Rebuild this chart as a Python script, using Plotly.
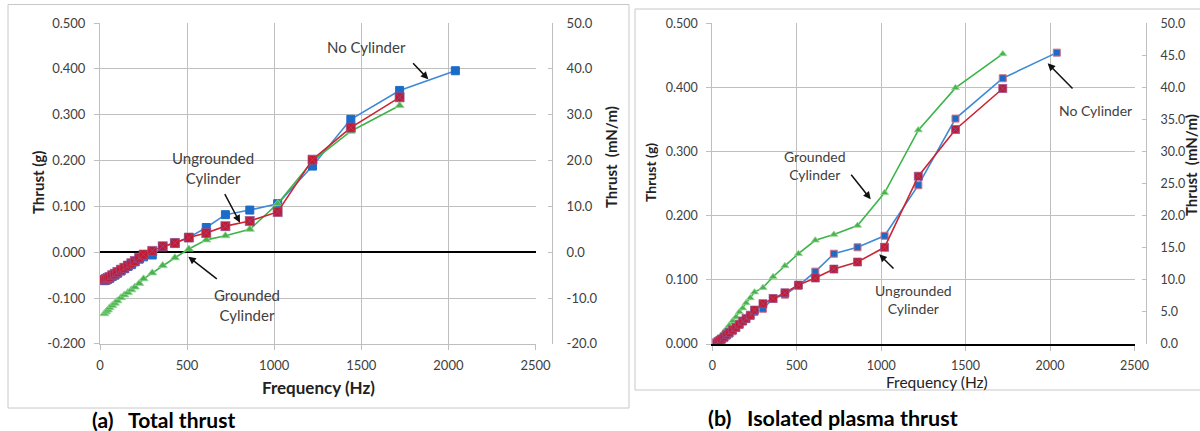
import plotly.graph_objects as go

# ---- data -------------------------------------------------------------
freq = [25, 35, 45, 55, 70, 85, 100, 120, 140, 160, 180, 200, 225, 250, 300,
        360, 430, 510, 610, 720, 860, 1020, 1220, 1440, 1720]
freq_nocyl = [25, 35, 45, 55, 70, 85, 100, 120, 140, 160, 180, 200, 225, 250, 300,
              360, 430, 510, 610, 720, 860, 1020, 1220, 1440, 1720, 2040]

# (a) total thrust, g
total_nocyl = [-0.062, -0.061, -0.059, -0.057, -0.053, -0.050, -0.046, -0.041, -0.036,
               -0.031, -0.027, -0.021, -0.015, -0.010, -0.006, 0.012, 0.020, 0.032,
               0.054, 0.082, 0.092, 0.106, 0.188, 0.290, 0.353, 0.396]
total_ungr = [-0.060, -0.058, -0.056, -0.054, -0.050, -0.047, -0.043, -0.038, -0.034,
              -0.029, -0.024, -0.019, -0.012, -0.005, 0.003, 0.013, 0.020, 0.032,
              0.042, 0.057, 0.068, 0.088, 0.202, 0.272, 0.338]
total_gnd = [-0.134, -0.130, -0.126, -0.121, -0.116, -0.111, -0.106, -0.099, -0.093,
             -0.088, -0.082, -0.076, -0.068, -0.058, -0.045, -0.029, -0.012, 0.007,
             0.027, 0.036, 0.050, 0.106, 0.199, 0.264, 0.320]

# (b) isolated plasma thrust, g
iso_nocyl = [0.000, 0.002, 0.004, 0.006, 0.009, 0.013, 0.016, 0.020, 0.025, 0.030,
             0.035, 0.039, 0.044, 0.050, 0.055, 0.071, 0.077, 0.091, 0.113, 0.141,
             0.151, 0.169, 0.248, 0.352, 0.415, 0.455]
iso_ungr = [0.002, 0.004, 0.006, 0.008, 0.011, 0.015, 0.018, 0.022, 0.026, 0.031,
            0.036, 0.040, 0.045, 0.053, 0.063, 0.071, 0.080, 0.092, 0.103, 0.117,
            0.128, 0.151, 0.262, 0.335, 0.399]
iso_gnd = [0.002, 0.006, 0.010, 0.014, 0.019, 0.024, 0.029, 0.036, 0.042, 0.050,
           0.056, 0.064, 0.072, 0.081, 0.088, 0.105, 0.122, 0.141, 0.162, 0.171,
           0.185, 0.236, 0.334, 0.400, 0.453]

x_ticks = [0, 500, 1000, 1500, 2000, 2500]
ya_ticks = [-0.2, -0.1, 0.0, 0.1, 0.2, 0.3, 0.4, 0.5]
ya2_ticks = [-20, -10, 0, 10, 20, 30, 40, 50]
yb_ticks = [0.0, 0.1, 0.2, 0.3, 0.4, 0.5]
yb2_ticks = [0, 5, 10, 15, 20, 25, 30, 35, 40, 45, 50]

# ---- styling ----------------------------------------------------------
W, H = 1200, 431
FONT = "Lato"
GRID = "#BFBFBF"
TXT = "#404040"
BLUE_L, BLUE_M = "#3E8AD6", "#1B6CC8"
RED_L, RED_M = "#CC2433", "#C41A30"
GRN_L, GRN_M = "#3DB54A", "#4CB050"


def px(x):
    return x / W


def py(y):
    return 1 - y / H


fig = go.Figure()


def add_series(xs, ys, xa, ya, kind, msize):
    if kind == "blue":
        line = dict(color=BLUE_L, width=1.6)
        marker = dict(symbol="square", size=msize, color=BLUE_M,
                      line=dict(color="#D87080" if xa == "x2" else BLUE_M, width=1))
    elif kind == "red":
        line = dict(color=RED_L, width=1.6)
        marker = dict(symbol="square-x", size=msize + 1, color=RED_M,
                      line=dict(color="#94508F", width=0.7))
    else:
        line = dict(color=GRN_L, width=1.6)
        marker = dict(symbol="triangle-up", size=msize, color=GRN_M,
                      line=dict(color="#8FD88F", width=0.8))
    fig.add_trace(go.Scatter(x=xs, y=ys, xaxis=xa, yaxis=ya, mode="lines+markers",
                             line=line, marker=marker, showlegend=False,
                             hoverinfo="skip"))


# panel (a)
add_series(freq_nocyl, total_nocyl, "x", "y", "blue", 8)
add_series(freq, total_gnd, "x", "y", "green", 8)
add_series(freq, total_ungr, "x", "y", "red", 8)
# panel (b)
add_series(freq_nocyl, iso_nocyl, "x2", "y3", "blue", 7)
add_series(freq, iso_gnd, "x2", "y3", "green", 7)
add_series(freq, iso_ungr, "x2", "y3", "red", 7)
# secondary (mN/m) axes carry no marks of their own
fig.add_trace(go.Scatter(x=[], y=[], xaxis="x", yaxis="y2", showlegend=False))
fig.add_trace(go.Scatter(x=[], y=[], xaxis="x2", yaxis="y4", showlegend=False))

font_a = dict(family=FONT, size=13, color=TXT)
font_b = dict(family=FONT, size=12.5, color=TXT)


def xstyle(tf):
    return dict(range=[0, 2503], tickmode="array", tickvals=x_ticks,
                ticktext=[str(v) for v in x_ticks], showgrid=True, gridcolor=GRID,
                gridwidth=1, zeroline=False, ticks="outside", ticklen=5,
                tickcolor=GRID, tickfont=tf, ticklabelstandoff=4, automargin=False)


def ystyle(tf):
    return dict(tickmode="array", showgrid=True, gridcolor=GRID, gridwidth=1,
                ticks="outside", ticklen=5, tickcolor=GRID, showline=True,
                linecolor=GRID, linewidth=1, tickfont=tf, ticklabelstandoff=6,
                automargin=False)


def y2style(tf):
    return dict(tickmode="array", showgrid=False, zeroline=False, ticks="inside",
                ticklen=4, tickcolor=GRID, showline=True, linecolor=GRID,
                linewidth=1, tickfont=tf, side="right", anchor="free",
                ticklabelstandoff=11, automargin=False)


fig.update_layout(
    width=W, height=H,
    margin=dict(l=0, r=0, t=0, b=0, autoexpand=False),
    paper_bgcolor="white", plot_bgcolor="white",
    showlegend=False,
    xaxis=dict(domain=[px(100), px(536)], anchor="y", showline=True,
               linecolor=GRID, linewidth=1, **xstyle(font_a)),
    yaxis=dict(domain=[py(344.3), py(22.7)], anchor="x", range=[-0.2008, 0.5008],
               tickvals=ya_ticks, ticktext=[f"{v:.3f}" for v in ya_ticks],
               zeroline=True, zerolinecolor="black", zerolinewidth=2,
               **ystyle(font_a)),
    yaxis2=dict(overlaying="y", position=px(552), range=[-20.08, 50.08],
                tickvals=ya2_ticks, ticktext=[f"{v:.1f}" for v in ya2_ticks],
                **y2style(font_a)),
    xaxis2=dict(domain=[px(712.3), px(1135)], anchor="y3", showline=True,
                linecolor="black", linewidth=2, **xstyle(font_b)),
    yaxis3=dict(domain=[py(344), py(23.3)], anchor="x2", range=[0, 0.5008],
                tickvals=yb_ticks, ticktext=[f"{v:.3f}" for v in yb_ticks],
                zeroline=False, **ystyle(font_b)),
    yaxis4=dict(overlaying="y3", position=px(1146), range=[0, 50.08],
                tickvals=yb2_ticks, ticktext=[f"{v:.1f}" for v in yb2_ticks],
                **y2style(font_b)),
)

# panel frames
fig.add_shape(type="rect", xref="paper", yref="paper", x0=px(8), x1=px(629),
              y0=py(408), y1=py(4.5), line=dict(color="#C8C8C8", width=1),
              fillcolor="rgba(0,0,0,0)", layer="below")
fig.add_shape(type="rect", xref="paper", yref="paper", x0=px(635), x1=px(1215),
              y0=py(390), y1=py(9), line=dict(color="#C8C8C8", width=1),
              fillcolor="rgba(0,0,0,0)", layer="below")


def text(x, y, s, size=14, color=TXT, bold=False, angle=0, xanchor="center"):
    fig.add_annotation(xref="paper", yref="paper", x=px(x), y=py(y),
                       text=f"<b>{s}</b>" if bold else s, showarrow=False,
                       font=dict(family=FONT, size=size, color=color),
                       textangle=angle, xanchor=xanchor, yanchor="middle")


def arrow(tail, head):
    fig.add_annotation(xref="paper", yref="paper", x=px(head[0]), y=py(head[1]),
                       ax=tail[0] - head[0], ay=tail[1] - head[1], text="",
                       showarrow=True, arrowhead=2, arrowsize=1, arrowwidth=1.5,
                       arrowcolor="#111111", standoff=0)


# axis titles
text(38, 183, "Thrust (g)", size=15, color="#222222", bold=True, angle=-90)
text(611, 157, "Thrust  (mN/m)", size=15, color="#222222", bold=True, angle=-90)
text(318, 387, "Frequency (Hz)", size=17, color="#222222", bold=True)
text(650, 173, "Thrust (g)", size=14, color="#222222", bold=True, angle=-90)
text(1191, 165, "Thrust  (mN/m)", size=15, color="#222222", bold=True, angle=-90)
text(937, 382, "Frequency (Hz)", size=15.5, color="#222222")

# captions
text(90, 419, "(a)&nbsp;&nbsp;&nbsp;Total thrust", size=21, color="black",
     bold=True, xanchor="left")
text(706, 418, "(b)&nbsp;&nbsp;&nbsp;Isolated plasma thrust", size=21.5, color="black",
     bold=True, xanchor="left")

# series labels and pointers, panel (a)
text(366.5, 47, "No Cylinder", size=15)
arrow((411.7, 61.7), (428.3, 79.3))
text(213, 168.5, "Ungrounded<br>Cylinder", size=15)
arrow((224, 192.7), (240, 222.7))
text(246.5, 304.5, "Grounded<br>Cylinder", size=15)
arrow((218.3, 280), (188.3, 256.7))

# series labels and pointers, panel (b)
text(815, 166, "Grounded<br>Cylinder")
arrow((850, 173.3), (870.7, 199.3))
text(913, 299.5, "Ungrounded<br>Cylinder")
arrow((895, 270), (879.3, 254.3))
text(1095.5, 110, "No Cylinder")
arrow((1074, 90), (1047.7, 63.3))

fig.write_html("out.html")
